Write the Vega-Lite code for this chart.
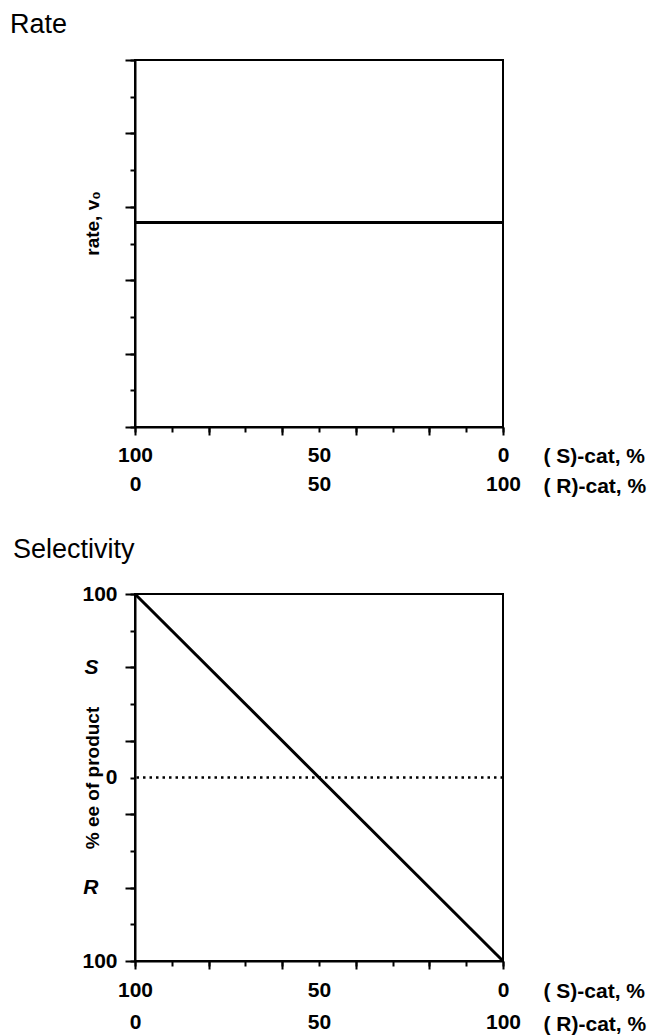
{
  "$schema": "https://vega.github.io/schema/vega-lite/v6.json",
  "background": "white",
  "padding": {"left": 9, "top": 10, "right": 5, "bottom": 5},
  "config": {
    "view": {"stroke": "black", "strokeWidth": 2},
    "font": "Liberation Sans",
    "axis": {"domainColor": "black", "domainWidth": 2, "tickColor": "black", "tickWidth": 2, "labelColor": "black", "titleColor": "black", "grid": false, "labelFont": "Liberation Sans", "titleFont": "Liberation Sans", "labelFontSize": 21, "titleFontSize": 19, "labelFontWeight": "bold", "titleFontWeight": "bold", "labelOverlap": false, "labelBound": false, "labelFlush": false},
    "title": {"font": "Liberation Sans", "fontSize": 27, "fontWeight": "normal", "color": "black", "anchor": "start", "frame": "bounds"},
    "concat": {"spacing": 38}
  },
  "vconcat": [
    {
      "title": {"text": "Rate", "dx": -73, "offset": 20},
      "width": 368,
      "height": 367,
      "data": {"values": [{"s": 100, "r": 0, "v": 5.57}, {"s": 0, "r": 100, "v": 5.57}]},
      "layer": [
        {
          "mark": {"type": "line", "color": "black", "strokeWidth": 3},
          "encoding": {
            "x": {"field": "s", "type": "quantitative", "scale": {"domain": [100, 0], "nice": false, "zero": false},
              "axis": {"orient": "bottom", "values": [100, 90, 80, 70, 60, 50, 40, 30, 20, 10, 0],
                "labelExpr": "datum.value % 50 === 0 ? datum.label : ''",
                "tickSize": 5, "labelPadding": 12,
                "title": "( S)-cat, %", "titleFontSize": 21, "titleAngle": 0, "titleX": 408, "titleY": 29, "titleAlign": "left", "titleBaseline": "middle", "titleAnchor": null}},
            "y": {"field": "v", "type": "quantitative", "scale": {"domain": [0, 10], "nice": false, "zero": false},
              "axis": {"orient": "left", "values": [0, 1, 2, 3, 4, 5, 6, 7, 8, 9, 10], "labels": false, "tickSize": 5,
                "title": "rate, v₀", "titleX": -43, "titleY": 163, "titleAngle": -90, "titleAlign": "center", "titleBaseline": "middle", "titleAnchor": null}}
          }
        },
        {
          "mark": {"type": "line", "strokeOpacity": 0},
          "encoding": {
            "x": {"field": "r", "type": "quantitative", "scale": {"domain": [0, 100], "nice": false, "zero": false},
              "axis": {"orient": "bottom", "offset": 36, "domain": false, "ticks": false, "values": [0, 50, 100], "labelPadding": 10,
                "title": "( R)-cat, %", "titleFontSize": 21, "titleAngle": 0, "titleX": 408, "titleY": 23, "titleAlign": "left", "titleBaseline": "middle", "titleAnchor": null}},
            "y": {"field": "v", "type": "quantitative", "scale": {"domain": [0, 10], "nice": false, "zero": false},
              "axis": {"orient": "left", "values": [0, 2, 4, 6, 8, 10], "labels": false, "domain": false, "tickSize": 10, "title": null}}
          }
        },
        {
          "mark": {"type": "line", "strokeOpacity": 0},
          "encoding": {
            "x": {"field": "s", "type": "quantitative", "scale": {"domain": [100, 0], "nice": false, "zero": false},
              "axis": {"orient": "bottom", "values": [100, 80, 60, 40, 20, 0], "labels": false, "domain": false, "tickSize": 8, "title": null}},
            "y": {"field": "v", "type": "quantitative", "scale": {"domain": [0, 10], "nice": false, "zero": false}, "axis": null}
          }
        }
      ],
      "resolve": {"scale": {"x": "independent", "y": "independent"}, "axis": {"x": "independent", "y": "independent"}}
    },
    {
      "title": {"text": "Selectivity", "dx": -69, "offset": 19},
      "width": 368,
      "height": 367,
      "layer": [
        {
          "data": {"values": [{"s": 100, "ee": 100}, {"s": 0, "ee": -100}]},
          "mark": {"type": "line", "color": "black", "strokeWidth": 3},
          "encoding": {
            "x": {"field": "s", "type": "quantitative", "scale": {"domain": [100, 0], "nice": false, "zero": false},
              "axis": {"orient": "bottom", "values": [100, 90, 80, 70, 60, 50, 40, 30, 20, 10, 0],
                "labelExpr": "datum.value % 50 === 0 ? datum.label : ''",
                "tickSize": 5, "labelPadding": 13,
                "title": "( S)-cat, %", "titleFontSize": 21, "titleAngle": 0, "titleX": 408, "titleY": 30, "titleAlign": "left", "titleBaseline": "middle", "titleAnchor": null}},
            "y": {"field": "ee", "type": "quantitative", "scale": {"domain": [-100, 100], "nice": false, "zero": false},
              "axis": {"orient": "left", "values": [-100, -80, -60, -40, -20, 0, 20, 40, 60, 80, 100],
                "labelExpr": "abs(datum.value) === 100 ? '100' : datum.value === 0 ? '0' : datum.value === 60 ? 'S' : datum.value === -60 ? 'R' : ''",
                "labelFontStyle": {"condition": {"test": "abs(datum.value) === 60", "value": "italic"}, "value": "normal"},
                "labelPadding": {"condition": {"test": "abs(datum.value) === 60", "value": 32}, "value": 13},
                "tickSize": 5,
                "title": "% ee of product", "titleX": -43, "titleY": 183.5, "titleAngle": -90, "titleAlign": "center", "titleBaseline": "middle", "titleAnchor": null}}
          }
        },
        {
          "data": {"values": [{"ee": 0}]},
          "mark": {"type": "rule", "color": "black", "strokeWidth": 2.5, "strokeDash": [2.5, 4]},
          "encoding": {
            "y": {"field": "ee", "type": "quantitative", "scale": {"domain": [-100, 100], "nice": false, "zero": false}, "axis": null}
          }
        },
        {
          "data": {"values": [{"r": 0, "ee": 100}, {"r": 100, "ee": -100}]},
          "mark": {"type": "line", "strokeOpacity": 0},
          "encoding": {
            "x": {"field": "r", "type": "quantitative", "scale": {"domain": [0, 100], "nice": false, "zero": false},
              "axis": {"orient": "bottom", "offset": 40, "domain": false, "ticks": false, "values": [0, 50, 100], "labelPadding": 10,
                "title": "( R)-cat, %", "titleFontSize": 21, "titleAngle": 0, "titleX": 408, "titleY": 23, "titleAlign": "left", "titleBaseline": "middle", "titleAnchor": null}},
            "y": {"field": "ee", "type": "quantitative", "scale": {"domain": [-100, 100], "nice": false, "zero": false},
              "axis": {"orient": "left", "values": [-100, -60, -20, 20, 60, 100], "labels": false, "domain": false, "tickSize": 10, "title": null}}
          }
        },
        {
          "data": {"values": [{"s": 100, "ee": 100}, {"s": 0, "ee": -100}]},
          "mark": {"type": "line", "strokeOpacity": 0},
          "encoding": {
            "x": {"field": "s", "type": "quantitative", "scale": {"domain": [100, 0], "nice": false, "zero": false},
              "axis": {"orient": "bottom", "values": [100, 80, 60, 40, 20, 0], "labels": false, "domain": false, "tickSize": 8, "title": null}},
            "y": {"field": "ee", "type": "quantitative", "scale": {"domain": [-100, 100], "nice": false, "zero": false}, "axis": null}
          }
        }
      ],
      "resolve": {"scale": {"x": "independent", "y": "independent"}, "axis": {"x": "independent", "y": "independent"}}
    }
  ]
}
